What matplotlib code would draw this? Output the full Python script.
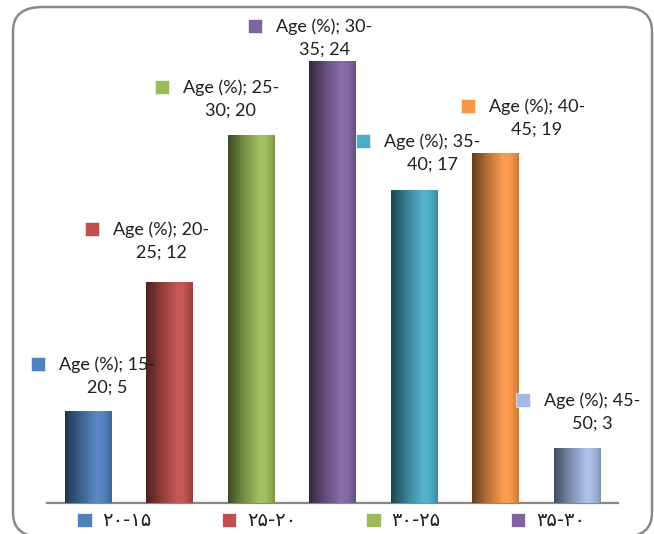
import numpy as np
import matplotlib
matplotlib.use("Agg")
import matplotlib.pyplot as plt
from matplotlib.patches import FancyBboxPatch, Patch
from matplotlib.colors import to_rgb
import matplotlib.transforms as mtransforms

# ---- data ----
categories = ['15-20', '20-25', '25-30', '30-35', '35-40', '40-45', '45-50']
values = [5, 12, 20, 24, 17, 19, 3]
legend_labels = ['۲۰-۱۵', '۲۵-۲۰', '۳۰-۲۵', '۳۵-۳۰']
series_name = 'Age (%)'

# ---- styles ----
colors = ['#4F81BD', '#C0504D', '#9BBB59', '#8064A2', '#4BACC6', '#F79646', '#A3BAE2']
# label offsets (pixels) relative to bar top-centre: (dx, dy of first line)
label_offsets = [(19, 46), (-8, 52), (-20, 47), (-8, 34), (18, 48), (41, 46), (15, 47)]

W, H, DPI = 654, 534, 100
fig = plt.figure(figsize=(W / DPI, H / DPI), dpi=DPI)
fig.patch.set_facecolor('white')

# rounded outer border
border = FancyBboxPatch((13 / W, -3 / H), (652 - 13) / W, (537 - 7) / H,
                        boxstyle="round,pad=0,rounding_size=0.045",
                        transform=fig.transFigure, facecolor='none',
                        edgecolor='#8a8a8a', linewidth=1.8, clip_on=False)
fig.patches.append(border)

px_per_unit = 18.42
ymax = 26
base_px = 503
ax_h = ymax * px_per_unit
ax = fig.add_axes([47 / W, (H - base_px) / H, (618 - 47) / W, ax_h / H])
ax.set_xlim(-0.5, len(values) - 0.5)
ax.set_ylim(0, ymax)
for s in ['top', 'right', 'left']:
    ax.spines[s].set_visible(False)
ax.spines['bottom'].set_color('#888888')
ax.spines['bottom'].set_linewidth(1.6)
ax.set_xticks([])
ax.set_yticks([])
ax.patch.set_alpha(0)

x = np.arange(len(values))
bars = ax.bar(x, values, width=0.57, color=colors, linewidth=0, zorder=2)


def gradient_img(c):
    c = np.array(to_rgb(c))
    white = np.ones(3)
    stops = [(0.0, c * 0.40), (0.3, c * 0.72), (0.68, c * 0.97 + white * 0.05),
             (0.8, c * 0.98 + white * 0.03), (0.93, c * 0.9), (1.0, c * 0.78)]
    pos = np.linspace(0, 1, 256)
    arr = np.zeros((1, 256, 3))
    for k in range(3):
        arr[0, :, k] = np.interp(pos, [s[0] for s in stops], [s[1][k] for s in stops])
    return np.clip(arr, 0, 1)


for b, c in zip(bars, colors):
    grad = gradient_img(c)
    x0, y0, w, h = b.get_x(), b.get_y(), b.get_width(), b.get_height()
    im = ax.imshow(grad, extent=(x0, x0 + w, y0, y0 + h), aspect='auto',
                   interpolation='bicubic', zorder=3)
    im.set_clip_path(b)
ax.set_xlim(-0.5, len(values) - 0.5)
ax.set_ylim(0, ymax)

# data labels
lab_font = dict(family='Lato', size=13, color='#1f1f1f')
for i, (cat, v, c, (dx, dy)) in enumerate(zip(categories, values, colors, label_offsets)):
    lo, hi = cat.split('-')
    ax.annotate(f"{series_name}; {lo}-", xy=(i, v), xytext=(dx, dy), textcoords='offset pixels',
                ha='center', va='center', zorder=5, **lab_font)
    ax.annotate(f"{hi}; {v}", xy=(i, v), xytext=(dx, dy - 23), textcoords='offset pixels',
                ha='center', va='center', zorder=5, **lab_font)
    tr = mtransforms.offset_copy(ax.transData, fig=fig, x=dx - 69, y=dy + 1, units='dots')
    ax.plot([i], [v], marker='s', ms=10, color=c, mec='white', mew=0.4,
            transform=tr, clip_on=False, zorder=5)

# bottom legend (first four categories)
handles = [Patch(facecolor=c, edgecolor='white', linewidth=0.5) for c in colors[:4]]
leg = fig.legend(handles, legend_labels, loc='center', bbox_to_anchor=(331 / W, 1 - 521 / H),
                 ncol=4, frameon=False, handlelength=0.75, handleheight=0.75,
                 handletextpad=0.55, columnspacing=3.6,
                 prop=dict(family='DejaVu Sans', size=14))
for t in leg.get_texts():
    t.set_color('#1f1f1f')

fig.savefig('out.png', dpi=DPI, facecolor='white')
